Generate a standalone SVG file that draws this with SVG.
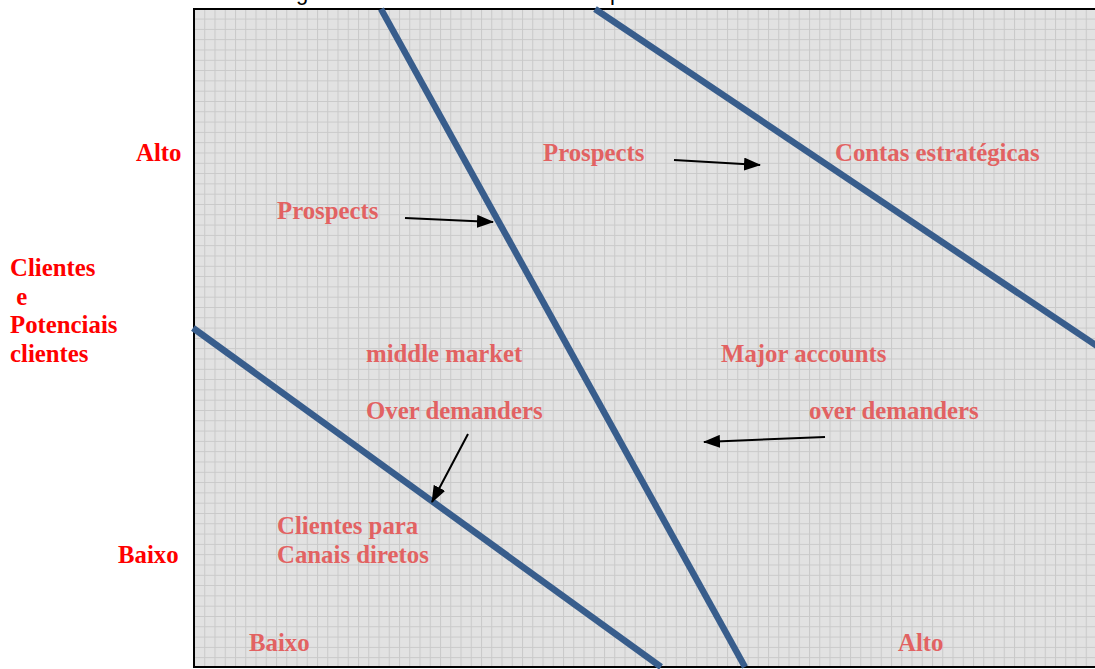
<svg xmlns="http://www.w3.org/2000/svg" width="1095" height="669" viewBox="0 0 1095 669">
  <style>
    .axis { font-family: "Liberation Serif", "Times New Roman", serif; font-weight: bold; font-size: 24.8px; fill: #ff0000; }
    .lbl { font-family: "Liberation Serif", "Times New Roman", serif; font-weight: bold; font-size: 24.8px; fill: #e26262; }
    .cap { font-family: "Liberation Sans", Arial, sans-serif; font-size: 22px; fill: #000000; }
    .div { stroke: #385d8c; stroke-width: 6.5; fill: none; }
    .arr { stroke: #000000; stroke-width: 2; fill: none; marker-end: url(#head); }
  </style>
  <defs>
    <pattern id="grid" patternUnits="userSpaceOnUse" x="194" y="8.3" width="10.25" height="10.3">
      <rect width="10.25" height="10.3" fill="#e2e2e2"/>
      <path d="M0 0.5 H10.25 M0.5 0 V10.3" stroke="#c9c9c9" stroke-width="1"/>
    </pattern>
    <marker id="head" markerUnits="userSpaceOnUse" markerWidth="17" markerHeight="13" refX="16" refY="6.5" orient="auto">
      <path d="M0 0 L17 6.5 L0 13 Z" fill="#000000"/>
    </marker>
  </defs>

  <!-- background -->
  <rect width="1095" height="669" fill="#ffffff"/>

  <!-- caption line running off the top edge -->
  <text class="cap" x="296" y="0">g</text>
  <text class="cap" x="610" y="0">p</text>

  <!-- plot area -->
  <g id="plot">
    <rect x="194" y="9" width="903" height="658" fill="url(#grid)" stroke="#000000" stroke-width="2"/>
  </g>

  <!-- segment dividers -->
  <g id="dividers">
    <line class="div" x1="381" y1="9" x2="745" y2="667"/>
    <line class="div" x1="595" y1="9" x2="1097" y2="346"/>
    <line class="div" x1="193" y1="328" x2="661" y2="667"/>
  </g>

  <!-- arrows -->
  <g id="connectors">
    <line class="arr" x1="674" y1="160" x2="760" y2="165"/>
    <line class="arr" x1="405" y1="218" x2="493" y2="222"/>
    <line class="arr" x1="468" y1="434" x2="432" y2="502"/>
    <line class="arr" x1="825" y1="437" x2="704" y2="442"/>
  </g>

  <!-- axis labels -->
  <g id="axis-y">
    <text class="axis" x="136" y="161">Alto</text>
    <text class="axis" x="118" y="563">Baixo</text>
    <text class="axis" x="10" y="276">Clientes</text>
    <text class="axis" x="10" y="305" xml:space="preserve"> e</text>
    <text class="axis" x="10" y="333">Potenciais</text>
    <text class="axis" x="10" y="362">clientes</text>
  </g>
  <g id="axis-x">
    <text class="lbl" x="249" y="651">Baixo</text>
    <text class="lbl" x="898" y="651">Alto</text>
  </g>

  <!-- segment labels -->
  <g id="prospects-top"><text class="lbl" x="543" y="161">Prospects</text></g>
  <g id="contas"><text class="lbl" x="835" y="161">Contas estratégicas</text></g>
  <g id="prospects-left"><text class="lbl" x="277" y="219">Prospects</text></g>
  <g id="middle-market"><text class="lbl" x="366" y="362">middle market</text></g>
  <g id="major-accounts"><text class="lbl" x="721" y="362">Major accounts</text></g>
  <g id="over-left"><text class="lbl" x="366" y="419">Over demanders</text></g>
  <g id="over-right"><text class="lbl" x="809" y="419">over demanders</text></g>
  <g id="canais">
    <text class="lbl" x="277" y="534">Clientes para</text>
    <text class="lbl" x="277" y="563">Canais diretos</text>
  </g>
</svg>
